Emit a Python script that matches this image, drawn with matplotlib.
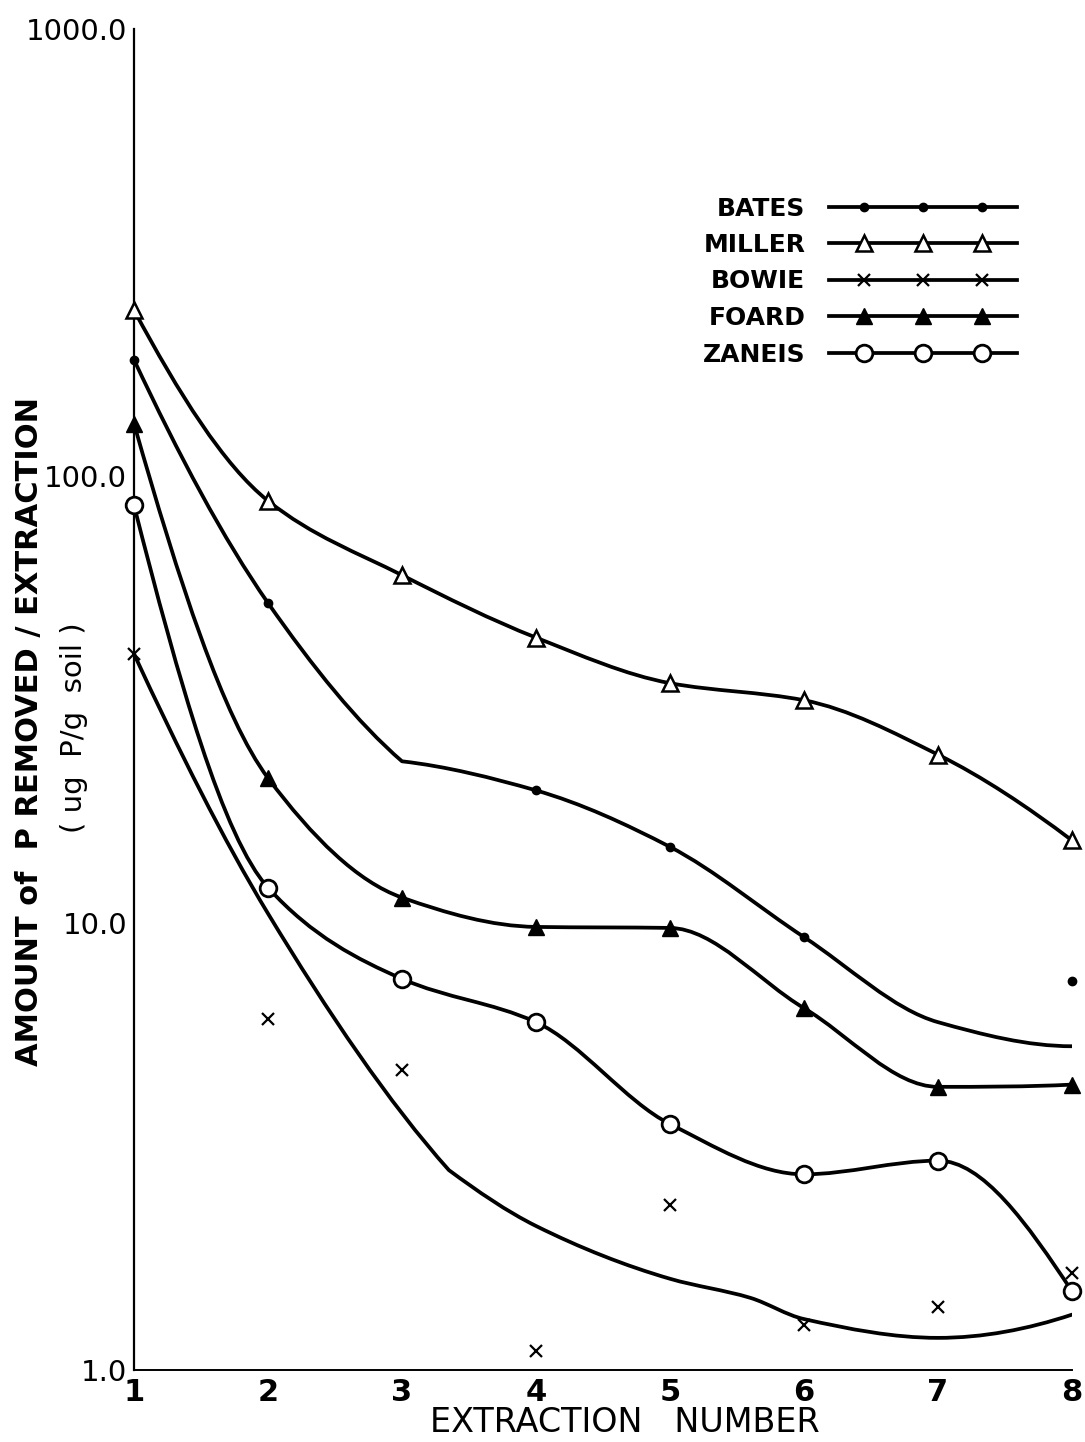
import matplotlib.pyplot as plt
import numpy as np
from matplotlib.path import Path
from matplotlib.patches import PathPatch
from matplotlib.lines import Line2D
from matplotlib.legend_handler import HandlerLine2DCompound

# values (ug P / g soil)
extraction = [1, 2, 3, 4, 5, 6, 7, 8]

bates = [182, 52, np.nan, 19.8, 14.8, 9.3, np.nan, 7.4]
bates_curve = [182, 52, 23, 19.8, 14.8, 9.3, 6.0, 5.3]
miller = [235, 88, 60, 43.5, 34.4, 31.5, 23.8, 15.3]
bowie = [40, 6.1, 4.7, 1.1, 2.34, 1.26, 1.38, 1.65]
bowie_curve_x = [1, 2, 3.35, 4, 5, 5.6, 6, 7, 8]
bowie_curve = [40, 10.5, 2.8, 2.1, 1.6, 1.45, 1.3, 1.18, 1.33]
foard = [131, 21.1, 11.4, 9.8, 9.75, 6.45, 4.3, 4.35]
zaneis = [86, 12.0, 7.5, 6.0, 3.55, 2.74, 2.94, 1.5]

soils = ['BATES', 'MILLER', 'BOWIE', 'FOARD', 'ZANEIS']
y_ticks = [1, 10, 100, 1000]
y_ticklabels = ['1.0', '10.0', '100.0', '1000.0']


def pchip_slopes(x, l):
    h = np.diff(x)
    s = np.diff(l) / h
    n = len(x)
    d = np.zeros(n)
    if n == 2:
        return np.full(2, s[0])
    for k in range(1, n - 1):
        if s[k - 1] * s[k] > 0:
            w1, w2 = 2 * h[k] + h[k - 1], h[k] + 2 * h[k - 1]
            d[k] = (w1 + w2) / (w1 / s[k - 1] + w2 / s[k])
    for k, (i, j) in ((0, (0, 1)), (-1, (-1, -2))):
        e = ((2 * h[i] + h[j]) * s[i] - h[i] * s[j]) / (h[i] + h[j])
        if np.sign(e) != np.sign(s[i]):
            e = 0.0
        elif np.sign(s[i]) != np.sign(s[j]) and abs(e) > abs(3 * s[i]):
            e = 3 * s[i]
        d[k] = e
    return d


def hand_curve(xs, ys, kinks=()):
    """Smooth hand-drawn style curve as a bezier path, shaped in (x, log y)."""
    xs = np.asarray(xs, float)
    ly = np.log10(np.asarray(ys, float))
    cuts = [0] + sorted(kinks) + [len(xs) - 1]
    verts, codes = [(xs[0], ly[0])], [Path.MOVETO]
    for a, b in zip(cuts[:-1], cuts[1:]):
        x, l = xs[a:b + 1], ly[a:b + 1]
        d = pchip_slopes(x, l)
        for i in range(len(x) - 1):
            h = x[i + 1] - x[i]
            verts += [(x[i] + h / 3, l[i] + d[i] * h / 3),
                      (x[i + 1] - h / 3, l[i + 1] - d[i + 1] * h / 3),
                      (x[i + 1], l[i + 1])]
            codes += [Path.CURVE4] * 3
    verts = np.array(verts)
    verts[:, 1] = 10 ** verts[:, 1]
    return Path(verts, codes)


class InsetMarkers(HandlerLine2DCompound):
    # full-length line, markers set in from both ends
    def get_xdata(self, legend, xdescent, ydescent, width, height, fontsize):
        pad = 1.4 * fontsize
        line_x = np.linspace(-xdescent, -xdescent + width, 3)
        mark_x = np.linspace(-xdescent + pad, -xdescent + width - pad, 3)
        return line_x, mark_x


fig = plt.figure(figsize=(10.85, 14.42), dpi=100)
ax = fig.add_axes([134 / 1085, 1 - 1370 / 1442, (1072 - 134) / 1085, (1370 - 29) / 1442])
ax.set_yscale('log')
ax.set_xlim(1, 8)
ax.set_ylim(1, 1000)

lw = 2.7
curves = [
    (extraction, bates_curve, (2,)),
    (extraction, miller, ()),
    (bowie_curve_x, bowie_curve, (2,)),
    (extraction, foard, ()),
    (extraction, zaneis, ()),
]
for xs, ys, kinks in curves:
    ax.add_patch(PathPatch(hand_curve(xs, ys, kinks), fill=False, lw=lw,
                           edgecolor='black', capstyle='round', joinstyle='round'))

styles = {
    'BATES': dict(marker='o', ms=6, mfc='black', mec='black'),
    'MILLER': dict(marker='^', ms=11, mfc='white', mec='black', mew=1.8),
    'BOWIE': dict(marker='x', ms=8, mec='black', mew=1.6),
    'FOARD': dict(marker='^', ms=11, mfc='black', mec='black'),
    'ZANEIS': dict(marker='o', ms=12, mfc='white', mec='black', mew=2),
}
point_sets = [bates, miller, bowie, foard, zaneis]
for name, ys in zip(soils, point_sets):
    ax.plot(extraction, ys, ls='none', clip_on=False, zorder=5, **styles[name])

# axes look
for side in ['top', 'right']:
    ax.spines[side].set_visible(False)
ax.spines['left'].set_linewidth(1.6)
ax.spines['bottom'].set_linewidth(1.4)
ax.minorticks_off()
ax.set_yticks(y_ticks)
ax.set_yticklabels(y_ticklabels)
ax.set_xticks(extraction)
ax.set_xticklabels([str(v) for v in extraction])
ax.tick_params(axis='y', length=0, pad=5, labelsize=21)
ax.tick_params(axis='x', length=0, pad=6, labelsize=22)
for t in ax.get_xticklabels():
    t.set_fontweight('bold')

fig.text(625 / 1085, 1 - 1423 / 1442, 'EXTRACTION   NUMBER', ha='center', va='center',
         fontsize=24)
fig.text(30 / 1085, 1 - 731 / 1442, 'AMOUNT of  P REMOVED / EXTRACTION', rotation=90,
         ha='center', va='center', fontsize=22, fontweight='bold')
fig.text(74 / 1085, 1 - 728 / 1442, '( ug  P/g  soil )', rotation=90,
         ha='center', va='center', fontsize=21)

# legend with labels on the left of the line samples
handles = [Line2D([], [], color='black', lw=lw, **styles[n]) for n in soils]
ax.legend(handles, soils, markerfirst=False, numpoints=3, handlelength=7.5,
          handletextpad=0.95, labelspacing=0.5, frameon=False, borderpad=0,
          prop=dict(size=18, weight='bold'),
          handler_map={Line2D: InsetMarkers()},
          loc='upper right', bbox_to_anchor=(1029 / 1085, 1 - 184 / 1442),
          bbox_transform=fig.transFigure)

fig.savefig('out.png', dpi=100)
